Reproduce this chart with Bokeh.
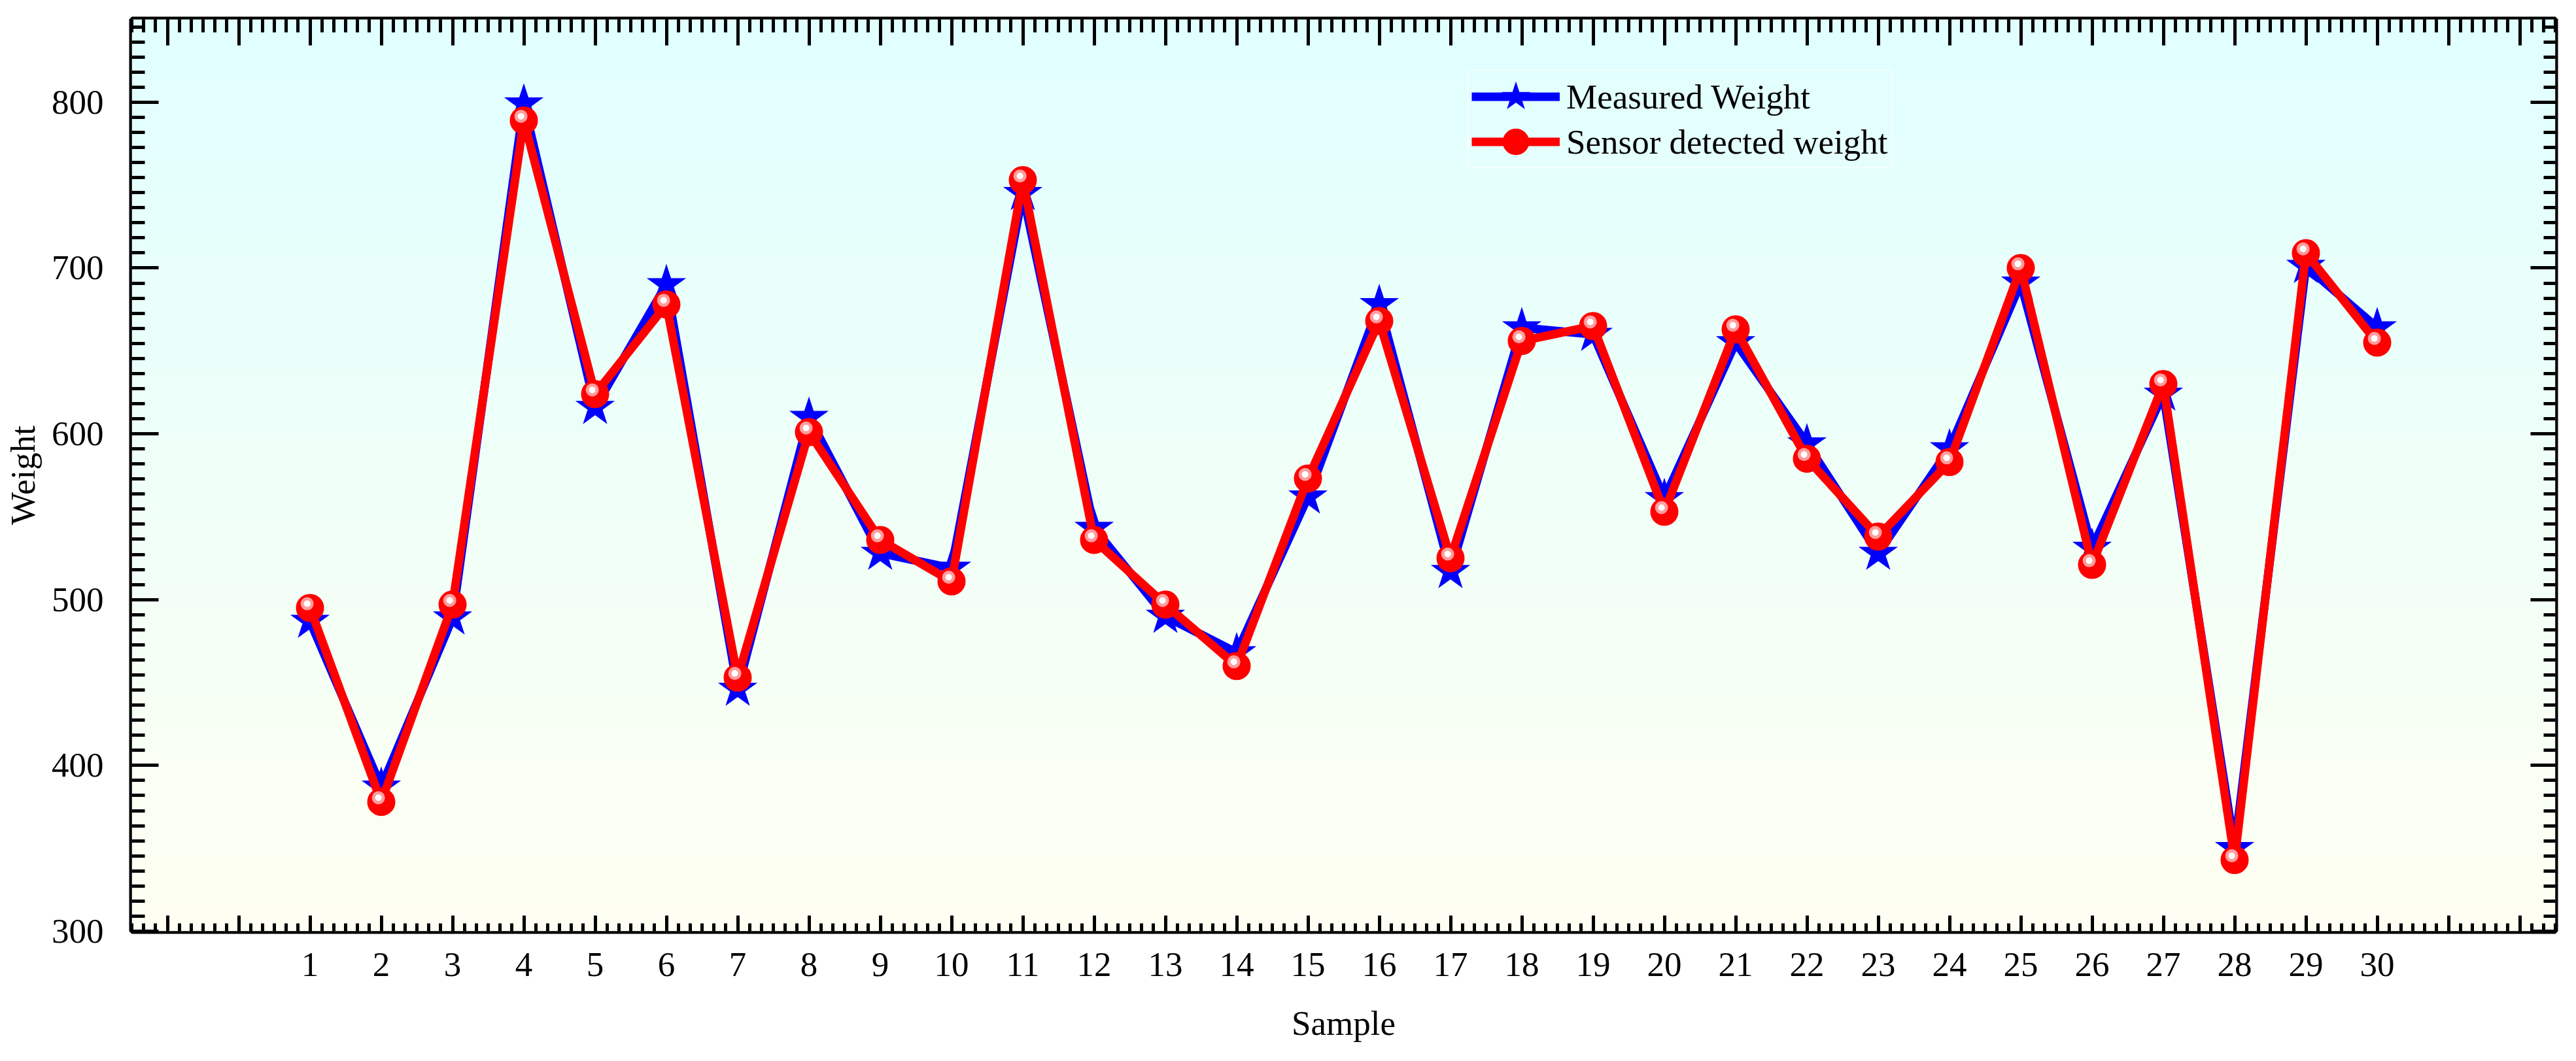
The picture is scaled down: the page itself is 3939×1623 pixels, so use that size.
import numpy as np
from bokeh.plotting import figure
from bokeh.models import (LinearAxis, SingleIntervalTicker, FixedTicker, Range1d,
                          Legend, LegendItem)
from bokeh.embed import file_html
from bokeh.resources import INLINE

# ---------------- data ----------------
samples = list(range(1, 31))
measured = [487, 387, 489, 799, 616, 690, 446, 610, 528, 519,
            745, 543, 490, 468, 562, 678, 517, 664, 660, 561,
            655, 594, 528, 591, 691, 531, 624, 350, 701, 664]
sensor = [495, 378, 497, 789, 624, 678, 453, 601, 536, 511,
          753, 536, 497, 460, 573, 668, 525, 656, 665, 553,
          663, 585, 538, 583, 700, 521, 630, 343, 709, 655]
x_labels = [str(s) for s in samples]
x_start, x_end = -1.5, 32.5
y_start, y_end = 300, 850

FONT = "Liberation Serif"
FS = "53px"

p = figure(width=3923, height=1615, output_backend="svg", toolbar_location=None,
           x_range=Range1d(x_start, x_end), y_range=Range1d(y_start, y_end),
           x_axis_location=None, y_axis_location=None,
           min_border_left=201, min_border_right=16, min_border_top=29, min_border_bottom=191)
p.xgrid.visible = False
p.ygrid.visible = False
p.background_fill_color = "white"
p.border_fill_color = "white"
p.outline_line_color = "black"
p.outline_line_width = 8

# background gradient (light cyan at top -> ivory at bottom)
n = 256
top_c = np.array([0xE0, 0xFF, 0xFF], dtype=float)
bot_c = np.array([0xFF, 0xFF, 0xF2], dtype=float)
t = np.linspace(0, 1, n)
cols = bot_c[None, :] + (top_c - bot_c)[None, :] * t[:, None]
img = np.zeros((n, 1), dtype=np.uint32)
view = img.view(dtype=np.uint8).reshape((n, 1, 4))
view[:, 0, 0] = cols[:, 0]
view[:, 0, 1] = cols[:, 1]
view[:, 0, 2] = cols[:, 2]
view[:, 0, 3] = 255
p.image_rgba(image=[img], x=x_start, y=y_start, dw=x_end - x_start, dh=y_end - y_start)

# ---------------- axes ----------------
xticker = SingleIntervalTicker(interval=1, num_minor_ticks=6)
yticker = SingleIntervalTicker(interval=100, num_minor_ticks=11)


def base_style(ax):
    ax.axis_line_color = None
    ax.major_tick_out = 0
    ax.minor_tick_out = 0
    ax.major_tick_line_width = 5
    ax.minor_tick_line_width = 5
    ax.major_tick_line_color = "black"
    ax.minor_tick_line_color = "black"
    ax.major_label_text_font = FONT
    ax.major_label_text_color = "black"
    ax.major_label_text_font_size = FS
    ax.axis_label_text_font = FONT
    ax.axis_label_text_font_style = "normal"
    ax.axis_label_text_font_size = FS
    ax.axis_label_text_color = "black"


def ticks_only(ax, tin, tmin):
    base_style(ax)
    ax.major_tick_in = tin
    ax.minor_tick_in = tmin
    ax.major_label_text_color = None
    ax.major_label_text_font_size = "0px"
    ax.major_label_standoff = 0


# bottom: tick marks (inner) + separate label axis
xb_ticks = LinearAxis(ticker=xticker)
ticks_only(xb_ticks, 24, 12)
p.add_layout(xb_ticks, "below")

xb = LinearAxis(ticker=FixedTicker(ticks=samples, minor_ticks=[]), axis_label="Sample")
base_style(xb)
xb.major_tick_in = 0
xb.minor_tick_in = 0
xb.major_tick_line_color = None
xb.minor_tick_line_color = None
xb.major_label_overrides = {s: lab for s, lab in zip(samples, x_labels)}
xb.major_label_standoff = 33
xb.axis_label_standoff = 40
p.add_layout(xb, "below")

xt = LinearAxis(ticker=xticker)
ticks_only(xt, 40, 20)
p.add_layout(xt, "above")

yl = LinearAxis(ticker=yticker, axis_label="Weight")
base_style(yl)
yl.major_tick_in = 41
yl.minor_tick_in = 20
yl.major_label_standoff = 43
yl.axis_label_standoff = 12
p.add_layout(yl, "left")

yr = LinearAxis(ticker=yticker)
ticks_only(yr, 38, 18)
p.add_layout(yr, "right")

# ---------------- series ----------------
bl = p.line(samples, measured, line_color="#0000ff", line_width=13)
bs = p.scatter(samples, measured, marker="star", size=44,
               fill_color="#0000ff", line_color="#0000ff", line_width=6,
               line_join="miter")
rl = p.line(samples, sensor, line_color="#ff0000", line_width=13)
rc = p.scatter(samples, sensor, marker="circle", size=30,
               fill_color="#ff0000", line_color="#ff0000", line_width=13)
hx = [s - 0.04 for s in samples]
hy = [v + 2.5 for v in sensor]
h1 = p.scatter(hx, hy, marker="circle", size=20, fill_color="#ff9c9c",
               line_color=None)
h2 = p.scatter(hx, hy, marker="circle", size=10, fill_color="#ffffff",
               line_color=None)

legend = Legend(items=[LegendItem(label="Measured Weight", renderers=[bl, bs]),
                       LegendItem(label="Sensor detected weight", renderers=[rl, rc])],
                location=(2042, 1166))
legend.background_fill_alpha = 0
legend.border_line_color = "white"
legend.border_line_width = 3
legend.padding = 4
legend.spacing = 0
legend.margin = 0
legend.glyph_width = 135
legend.glyph_height = 69
legend.label_standoff = 10
legend.label_text_font = FONT
legend.label_text_font_size = FS
legend.label_text_color = "black"
p.add_layout(legend)

open("out.html", "w").write(file_html(p, INLINE))
